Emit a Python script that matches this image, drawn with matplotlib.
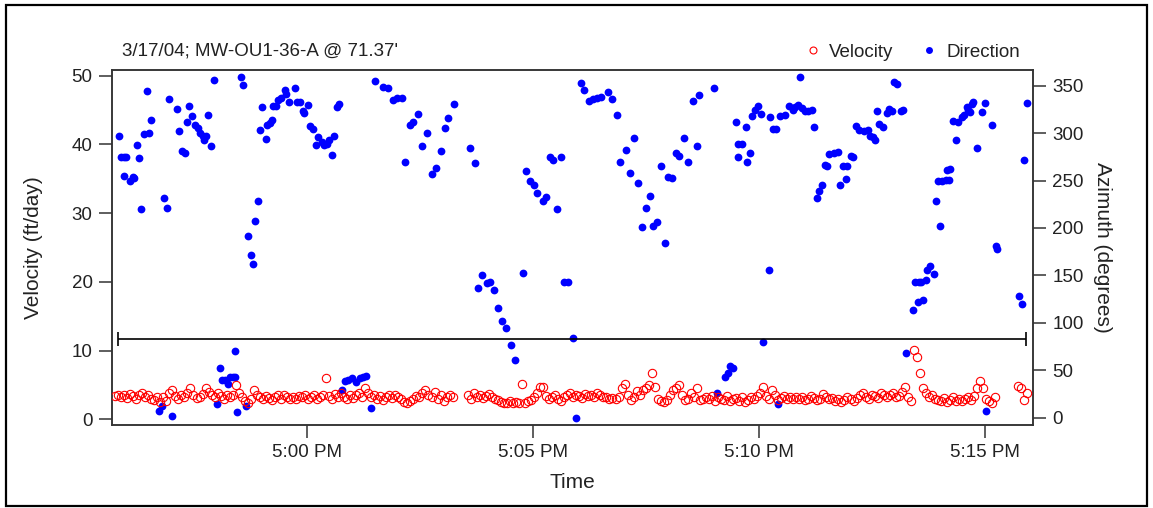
import numpy as np
import matplotlib.pyplot as plt
from matplotlib.lines import Line2D
from matplotlib.patches import Rectangle

plt.rcParams['font.family'] = ['Liberation Sans', 'DejaVu Sans']
plt.rcParams['text.color'] = '#222222'

title = "3/17/04; MW-OU1-36-A @ 71.37'"

# time axis is minutes after 5:00 PM
time_ticks = [0, 5, 10, 15]
time_labels = ['5:00 PM', '5:05 PM', '5:10 PM', '5:15 PM']
vel_ticks = [0, 10, 20, 30, 40, 50]
az_ticks = [0, 50, 100, 150, 200, 250, 300, 350]

## velocity (ft/day), one reading every 4 s, three runs
vel_step = 4 / 60
vel_a_start = -4.25
vel_a = [3.4, 3.6, 3.3, 3.5, 3.1, 3.7, 3.4, 3.0, 3.5, 3.8, 3.2, 3.6, 3.0, 2.8, 3.3,
         2.5, 3.2, 2.7, 3.9, 4.3,
         3.4, 3.0, 3.6, 3.2, 3.8, 4.5, 3.5, 3.1, 3.3, 3.7,
         4.5, 4.0, 3.6, 3.2, 3.9, 3.4, 3.0, 3.6, 3.2, 3.5,
         5.0, 3.8, 3.2, 2.6, 2.4,
         3.0, 4.2, 3.6, 3.3, 3.0,
         3.4, 3.1, 2.8, 3.3, 3.5, 3.0, 3.6, 3.2, 2.9, 3.3,
         3.0, 3.4, 3.2, 3.6, 3.0, 3.3, 3.5, 2.9, 3.2, 3.6,
         6.0, 3.4, 3.0, 3.7, 3.2,
         3.8, 3.3, 2.9, 3.5, 3.1, 3.6, 3.9, 3.3, 4.6, 3.8,
         3.2, 3.6, 3.0, 3.4, 2.8, 3.3, 3.5, 3.1, 3.6, 3.3,
         2.9, 2.5, 2.4, 2.6, 3.0, 3.4, 3.2, 3.8, 4.2, 3.6,
         3.3, 4.0, 3.0, 3.5, 2.7, 3.2, 3.6, 3.3]
vel_b_start = 3.555
vel_b = [3.5, 3.0, 3.8, 3.3, 3.6, 3.1, 3.4, 3.7, 3.2, 3.0,
         2.8, 2.5, 2.4, 2.3, 2.6, 2.3, 2.5, 2.3, 5.1, 2.4,
         2.6, 2.8, 3.3, 3.8, 4.7, 4.7, 3.4, 2.9, 3.2, 3.6,
         3.0, 2.7, 3.2, 3.5, 3.8, 3.3, 3.6, 3.4, 3.1, 3.7,
         3.4, 3.6, 3.2, 3.9, 3.5, 3.3, 3.2, 3.0, 3.1, 2.9,
         3.3, 4.5, 5.2, 3.6, 2.8, 3.3, 4.1, 3.5, 4.2, 4.6,
         5.0, 6.7, 4.7, 3.0, 2.6, 2.5, 2.8, 3.6, 4.2, 4.6,
         5.0, 3.5, 2.8, 3.0, 3.8, 3.2, 4.5, 2.8, 3.0, 3.3,
         3.0, 3.4, 2.6, 3.2, 3.0, 2.8, 3.4, 2.6, 2.9, 3.1,
         2.7, 3.2, 2.5, 2.8, 3.3, 3.0, 3.4, 3.9, 4.7, 3.4,
         3.0, 4.2, 3.6, 2.8, 3.1, 3.4, 2.9, 3.2, 3.0, 3.3,
         2.9, 3.2, 2.8, 3.0, 3.4, 3.1, 2.8, 3.0, 3.7, 3.2,
         2.9, 3.1, 2.7, 3.0, 2.5, 2.8, 3.3, 3.0, 2.6, 3.1,
         3.5, 3.8, 3.3, 3.0, 3.6, 3.4, 3.1, 3.8, 3.5, 3.3,
         3.6, 3.9, 3.2, 3.4, 4.0, 4.7, 3.3, 2.6, 10.1, 9.0,
         6.7, 4.6, 3.8, 3.2, 3.5, 3.0, 2.8, 2.6, 3.1, 2.5,
         2.8, 3.2, 2.7, 3.0, 2.6, 2.9, 3.3, 2.8, 3.4, 4.5,
         5.6, 4.5, 3.0, 2.6, 2.4, 3.2]
vel_c_start = 15.72
vel_c = [4.9, 4.6, 2.8, 3.9]

## direction (azimuth, degrees)
dir_time = [-4.16, -4.13, -4.06, -4.00, -4.06, -3.92, -3.86, -3.83, -3.76, -3.72, -3.67, -3.61, -3.55, -3.50, -3.46,
            -3.27, -3.22, -3.16, -3.11, -3.05, -3.00, -2.88, -2.84, -2.76, -2.71, -2.65, -2.61, -2.54, -2.48, -2.41,
            -2.37, -2.30, -2.29, -2.23, -2.19, -2.12, -2.06,
            -2.00, -1.93, -1.89, -1.82, -1.75, -1.71, -1.64, -1.60, -1.60, -1.55, -1.47, -1.42, -1.36,
            -1.31, -1.25, -1.21, -1.16, -1.08, -1.05, -1.00, -0.92, -0.88, -0.83, -0.79, -0.75, -0.69, -0.64, -0.57,
            -0.49, -0.46, -0.40, -0.27, -0.23, -0.16, -0.10, -0.07,
            0.02, 0.06, 0.13, 0.19, 0.24, 0.32, 0.37, 0.43, 0.49, 0.54, 0.60, 0.65, 0.71, 0.76, 0.83, 0.91, 0.98,
            1.09, 1.17, 1.24, 1.30, 1.42,
            1.50, 1.68, 1.79, 1.90, 1.98, 2.09, 2.16, 2.27, 2.35, 2.46, 2.55, 2.65, 2.75, 2.85, 2.95, 3.05, 3.12, 3.25,
            3.60, 3.71, 3.78, 3.86, 3.97, 4.04, 4.14, 4.23, 4.32, 4.40, 4.50, 4.60, 4.77, 4.85, 4.93, 5.02, 5.09,
            5.21, 5.28, 5.37, 5.44, 5.53, 5.61, 5.69, 5.77, 5.87, 5.94,
            6.05, 6.12, 6.24, 6.33, 6.42, 6.51, 6.65, 6.74, 6.85, 6.92, 7.05, 7.14, 7.23, 7.31, 7.40, 7.49, 7.58,
            7.65, 7.74, 7.83, 7.91, 7.99, 8.08, 8.16, 8.23, 8.34, 8.43, 8.53, 8.62, 8.67, 9.00,
            9.06, 9.24, 9.31, 9.35, 9.42, 9.48, 9.54, 9.54, 9.63, 9.71, 9.73, 9.79, 9.85, 9.90, 9.98, 10.05, 10.09,
            10.21, 10.25, 10.31, 10.37, 10.42, 10.46, 10.57, 10.66, 10.75, 10.79, 10.86, 10.90, 10.94, 11.01, 11.08,
            11.16, 11.21,
            11.27, 11.33, 11.38, 11.45, 11.50, 11.55, 11.65, 11.75, 11.79, 11.86, 11.92, 11.95, 12.04, 12.08, 12.15,
            12.21, 12.32, 12.41, 12.46, 12.52, 12.56, 12.61, 12.65, 12.74, 12.82, 12.88, 12.93, 12.98, 13.04, 13.13,
            13.19, 13.24,
            13.41, 13.44, 13.52, 13.53, 13.59, 13.62, 13.69, 13.72, 13.79, 13.87, 13.91, 13.96, 14.01, 14.04, 14.13,
            14.15, 14.20, 14.23, 14.29, 14.35, 14.40, 14.48, 14.53, 14.59, 14.62, 14.66, 14.70, 14.73, 14.81, 14.93,
            14.99, 15.03, 15.15, 15.24, 15.27, 15.75, 15.82, 15.86, 15.93]
dir_deg = [297, 275, 275, 275, 255, 249, 254, 253, 287, 274, 220, 299, 344, 300, 314,
           7, 12, 232, 221, 336, 2, 325, 302, 281, 279, 312, 329, 318, 308, 305, 300, 297, 293, 297, 319, 286, 356,
           14, 52, 40, 40, 36, 43, 43, 43, 70, 6, 359, 351, 12,
           191, 172, 162, 207, 228, 303, 327, 294, 308, 311, 314, 329, 329, 335, 337, 345, 341, 333, 348, 333, 333,
           323, 321,
           330, 307, 304, 287, 296, 291, 287, 289, 293, 277, 297, 327, 331, 29, 39, 40, 42, 38, 42, 43, 44, 10,
           355, 349, 347, 335, 337, 337, 270, 309, 312, 320, 286, 300, 257, 263, 281, 305, 316, 331,
           284, 268, 137, 150, 142, 143, 135, 116, 102, 95, 77, 61, 152, 260, 250, 245, 237, 228, 233, 275, 272, 220,
           275, 143, 143, 84, 0,
           353, 345, 334, 336, 337, 338, 343, 336, 319, 270, 282, 258, 295, 247, 201, 221, 234, 202, 206, 265, 184,
           254, 253, 279, 276, 295, 270, 334, 286, 340, 348,
           26, 43, 47, 54, 52, 312, 289, 275, 289, 306, 269, 279, 318, 324, 329, 320, 80, 156, 317, 304, 304, 14,
           318, 319, 329, 324, 328, 330, 359, 326, 323, 323, 324, 306,
           232, 239, 245, 266, 265, 278, 279, 280, 245, 265, 252, 265, 276, 275, 307, 303, 302, 303, 297, 296, 293,
           323, 310, 306, 321, 325, 323, 354, 352, 323, 324, 68,
           113, 143, 122, 143, 143, 124, 145, 156, 160, 151, 228, 250, 202, 250, 251, 261, 251, 262, 313, 293, 312,
           317, 319, 327, 324, 322, 331, 333, 284, 322, 332, 7, 308, 181, 178, 128, 120, 272, 332]

# horizontal bar across the record
span_start, span_end, span_level = -4.18, 15.91, 11.7

vel_time = np.concatenate([vel_a_start + vel_step * np.arange(len(vel_a)),
                           vel_b_start + vel_step * np.arange(len(vel_b)),
                           vel_c_start + vel_step * np.arange(len(vel_c))])
vel = np.array(vel_a + vel_b + vel_c)

ink = '#222222'
fig = plt.figure(figsize=(11.53, 5.08), dpi=100)
ax = fig.add_axes([112 / 1153, 83 / 508, 921 / 1153, 355 / 508])
axv = ax.twinx()

# direction on the base axes (right scale), velocity on top (left scale)
ax.plot(dir_time, dir_deg, 'o', color='blue', ms=5.6, mew=0, zorder=2)
ax.yaxis.tick_right()
ax.yaxis.set_label_position('right')
ax.set_ylim(-7.7, 366.5)
ax.set_yticks(az_ticks)
ax.set_ylabel('Azimuth (degrees)', fontsize=15, rotation=-90, color=ink)
ax.yaxis.set_label_coords(1.0858, 0.5)

axv.plot(vel_time, vel, 'o', mfc='none', mec='red', ms=6, mew=0.8, zorder=3)
axv.errorbar([(span_start + span_end) / 2], [span_level], xerr=[(span_end - span_start) / 2],
             fmt='none', ecolor='black', elinewidth=1.2, capsize=4.7, capthick=1.2)
axv.yaxis.tick_left()
axv.yaxis.set_label_position('left')
axv.set_ylim(-0.83, 50.84)
axv.set_yticks(vel_ticks)
axv.set_ylabel('Velocity (ft/day)', fontsize=15, color=ink)
axv.yaxis.set_label_coords(-0.075, 0.5)

ax.set_xlim(-4.32, 16.06)
ax.set_xticks(time_ticks)
ax.set_xticklabels(time_labels)
ax.set_xlabel('Time', fontsize=15, color=ink, labelpad=8)

for a in (ax, axv):
    a.tick_params(direction='out', length=9.5, width=1.1, labelsize=13.5, pad=4.5,
                  color='#333333', labelcolor=ink)
    for s in a.spines.values():
        s.set_linewidth(1.1)
        s.set_color('#333333')

fig.text(122 / 1153, 1 - 51 / 508, title, fontsize=13.5, ha='left', va='center', color=ink)

handles = [Line2D([], [], marker='o', ls='none', mfc='none', mec='red', ms=5, mew=0.8),
           Line2D([], [], marker='o', ls='none', mfc='blue', mec='blue', ms=5, mew=0)]
fig.legend(handles, ['Velocity', 'Direction'], loc='center right',
           bbox_to_anchor=(1020 / 1153, 1 - 52 / 508), ncol=2, frameon=False, fontsize=13.5,
           handlelength=0.8, handletextpad=0.5, columnspacing=1.5, borderpad=0, borderaxespad=0)

fig.add_artist(Rectangle((6 / 1153, 2 / 508), 1141 / 1153, 501 / 508, transform=fig.transFigure,
                         fill=False, ec='black', lw=1.6))

fig.savefig('out.png', dpi=100)
